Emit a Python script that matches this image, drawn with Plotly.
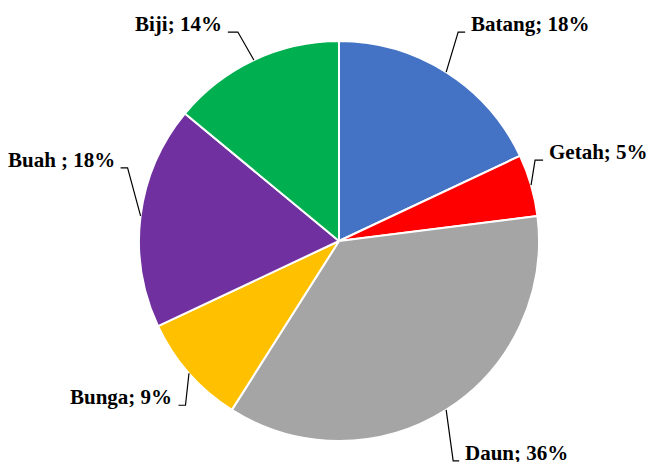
import math
import plotly.graph_objects as go

# ---- data ----
categories = ["Batang", "Getah", "Daun", "Bunga", "Buah", "Biji"]
values = [18, 5, 36, 9, 18, 14]
label_texts = ["Batang; 18%", "Getah; 5%", "Daun; 36%", "Bunga; 9%", "Buah ; 18%", "Biji; 14%"]
colors = ["#4472C4", "#FF0000", "#A5A5A5", "#FFC000", "#7030A0", "#00B050"]

# ---- layout constants (pixels) ----
W, H = 646, 462
CX, CY, R = 339, 241, 200
# elbow offset of leader line from slice edge point, and horizontal tick length
elbow_off = [(12, -40), (4, -25), (7, 51), (-3.5, 32), (-13, -48), (-16, -28)]
tick_len = [7, 8, 6, -7, -7, -10]
FONT = "Times New Roman, Liberation Serif, serif"

def px(x):
    return x / W

def py(y):
    return (H - y) / H

fig = go.Figure()
fig.add_trace(go.Pie(
    labels=categories, values=values, sort=False, direction="clockwise", rotation=0,
    marker=dict(colors=colors, line=dict(color="white", width=2)),
    textinfo="none", hoverinfo="label+percent", showlegend=False,
    domain=dict(x=[px(CX - R), px(CX + R)], y=[py(CY + R), py(CY - R)]),
))

total = sum(values)
cum = 0
shapes, annotations = [], []
for i, v in enumerate(values):
    mid = (cum + v / 2) / total * 2 * math.pi
    cum += v
    ax = CX + R * math.sin(mid)
    ay = CY - R * math.cos(mid)
    ex, ey = ax + elbow_off[i][0], ay + elbow_off[i][1]
    hx = ex + tick_len[i]
    shapes.append(dict(
        type="path", xref="paper", yref="paper",
        path=f"M {px(ax)},{py(ay)} L {px(ex)},{py(ey)} L {px(hx)},{py(ey)}",
        line=dict(color="black", width=1.2),
    ))
    right = tick_len[i] > 0
    annotations.append(dict(
        x=px(hx + (4 if right else -4)), y=py(ey - 8), xref="paper", yref="paper",
        text=f"<b>{label_texts[i]}</b>", showarrow=False,
        xanchor="left" if right else "right", yanchor="middle",
        font=dict(family=FONT, size=21, color="black"),
    ))

fig.update_layout(
    width=W, height=H, margin=dict(l=0, r=0, t=0, b=0),
    paper_bgcolor="white", plot_bgcolor="white",
    shapes=shapes, annotations=annotations,
)
fig.write_html("out.html", config={"displayModeBar": False},
               post_script="document.body.style.margin='0';document.body.style.padding='0';")
